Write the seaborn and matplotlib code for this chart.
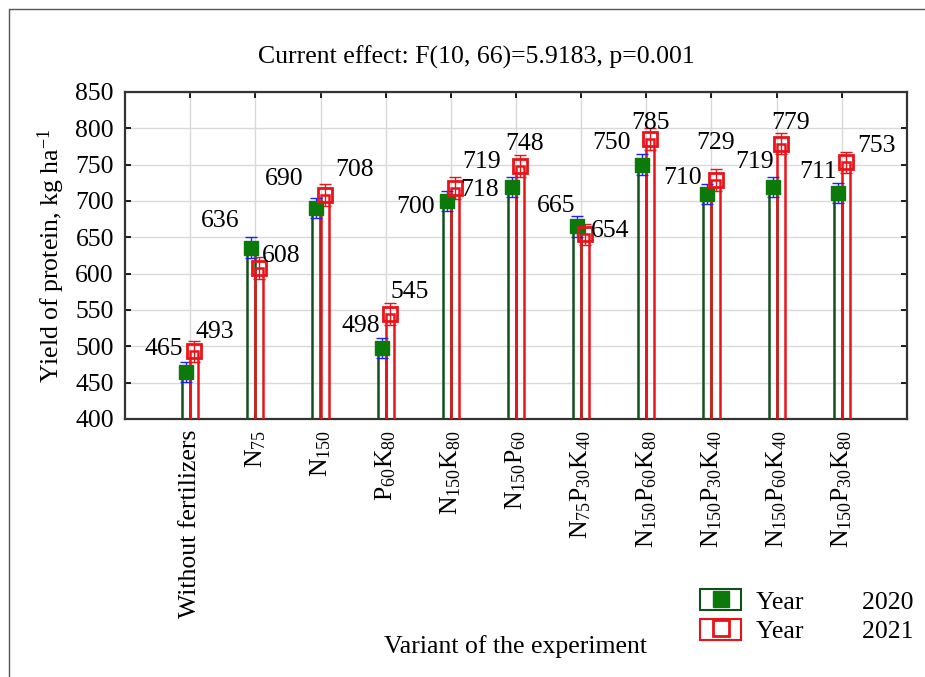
import pandas as pd
import numpy as np
import matplotlib.pyplot as plt
import seaborn as sns
from matplotlib.patches import Patch
from matplotlib.lines import Line2D

# data
variants = ["Without fertilizers", r"$\mathrm{N_{75}}$", r"$\mathrm{N_{150}}$",
            r"$\mathrm{P_{60}K_{80}}$", r"$\mathrm{N_{150}K_{80}}$", r"$\mathrm{N_{150}P_{60}}$",
            r"$\mathrm{N_{75}P_{30}K_{40}}$", r"$\mathrm{N_{150}P_{60}K_{80}}$",
            r"$\mathrm{N_{150}P_{30}K_{40}}$", r"$\mathrm{N_{150}P_{60}K_{40}}$",
            r"$\mathrm{N_{150}P_{30}K_{80}}$"]
yield_2020 = [465, 636, 690, 498, 700, 719, 665, 750, 710, 719, 711]
yield_2021 = [493, 608, 708, 545, 718, 748, 654, 785, 729, 779, 753]
err_2020 = [14, 14, 14, 14, 14, 14, 14, 14, 14, 14, 14]
err_2021 = [15, 15, 15, 15, 15, 15, 15, 15, 15, 15, 15]

# label offsets (pixels) for value annotations
off_2020 = [(-22, 23), (-31, 27), (-32, 29), (-21, 22), (-31, -6), (-30, 25),
            (-21, 20), (-31, 22), (-25, 16), (-18, 25), (-20, 21)]
off_2021 = [(21, 19), (22, 12), (30, 25), (20, 22), (25, -2), (4, 22),
            (25, 3), (0, 16), (0, 37), (10, 21), (31, 16)]

green = "#0b7a0b"
dgreen = "#12501a"
red = "#e8141a"
fs = 18.5

sns.set_theme(style="white")
plt.rcParams["font.family"] = ["Liberation Serif", "DejaVu Serif"]
plt.rcParams["mathtext.fontset"] = "custom"
plt.rcParams["mathtext.rm"] = "Liberation Serif"
plt.rcParams["mathtext.it"] = "Liberation Serif:italic"
plt.rcParams["mathtext.bf"] = "Liberation Serif:bold"
for k in ["text.color", "axes.labelcolor", "xtick.color", "ytick.color"]:
    plt.rcParams[k] = "black"

df = pd.DataFrame({
    "variant": variants * 2,
    "value": yield_2020 + yield_2021,
    "year": ["2020"] * len(variants) + ["2021"] * len(variants),
})

fig = plt.figure(figsize=(9.25, 6.77), dpi=100)
ax = fig.add_axes([125 / 925, 1 - 419 / 677, 782 / 925, 327 / 677])

sns.barplot(data=df, x="variant", y="value", hue="year", hue_order=["2020", "2021"],
            palette={"2020": dgreen, "2021": red}, fill=False, width=0.25,
            linewidth=1.8, errorbar=None, legend=False, ax=ax, zorder=3)

x = np.arange(len(variants))
d = 0.0625
ax.errorbar(x - d, yield_2020, yerr=err_2020, fmt="none", ecolor="#1f1fff",
            elinewidth=1, capsize=4, capthick=1, zorder=4)
ax.plot(x - d, yield_2020, "s", color=green, ms=10, zorder=5)
ax.errorbar(x + d, yield_2021, yerr=err_2021, fmt="none", ecolor=red,
            elinewidth=1, capsize=4, capthick=1, zorder=4)
ax.plot(x + d, yield_2021, "s", mfc="none", mec=red, mew=2, ms=10, zorder=5)

for i in range(len(variants)):
    ax.annotate(str(yield_2020[i]), (x[i] - d, yield_2020[i]), xytext=off_2020[i],
                textcoords="offset pixels", ha="center", va="center", fontsize=fs, zorder=6)
    ax.annotate(str(yield_2021[i]), (x[i] + d, yield_2021[i]), xytext=off_2021[i],
                textcoords="offset pixels", ha="center", va="center", fontsize=fs, zorder=6)

ax.set_xlim(-1, 11)
ax.set_ylim(400, 850)
ax.set_yticks(range(400, 851, 50))
ax.set_xticks(x)
ax.set_xticklabels(variants, rotation=90, fontsize=fs)
ax.tick_params(axis="y", labelsize=fs, direction="in", length=4, left=True, right=True, pad=8)
ax.tick_params(axis="x", direction="in", length=4, bottom=True, top=True, pad=8)
ax.grid(True, color="#d9d9d9", lw=1, zorder=0)
ax.set_axisbelow(True)
for s in ax.spines.values():
    s.set_color("#333333")
    s.set_linewidth(1.6)
ax.set_xlabel("")
ax.set_ylabel(r"Yield of protein, kg ha$^{\mathregular{-1}}$", fontsize=fs, labelpad=6)

fig.text(476 / 925, 1 - 57 / 677, "Current effect: F(10, 66)=5.9183, p=0.001",
         ha="center", va="center", fontsize=fs)
fig.text(515 / 925, 1 - 647 / 677, "Variant of the experiment",
         ha="center", va="center", fontsize=fs)

# outer frame lines
fig.add_artist(Line2D([9 / 925, 9 / 925], [0, 1 - 9 / 677], color="#555555", lw=1))
fig.add_artist(Line2D([9 / 925, 1], [1 - 9 / 677, 1 - 9 / 677], color="#555555", lw=1))

h1 = (Patch(facecolor="white", edgecolor=dgreen, lw=1.5),
      Line2D([], [], marker="s", ls="none", color=green, ms=11))
h2 = (Patch(facecolor="white", edgecolor=red, lw=1.5),
      Line2D([], [], marker="s", ls="none", mfc="none", mec=red, mew=2, ms=11))
fig.legend([h1, h2], ["Year         2020", "Year         2021"], loc="upper left",
           bbox_to_anchor=(700 / 925, 1 - 589 / 677), frameon=False, fontsize=fs,
           handlelength=1.6, handleheight=0.9, handletextpad=0.56,
           labelspacing=0.2, borderpad=0, borderaxespad=0)

fig.savefig("out.png", dpi=100)
